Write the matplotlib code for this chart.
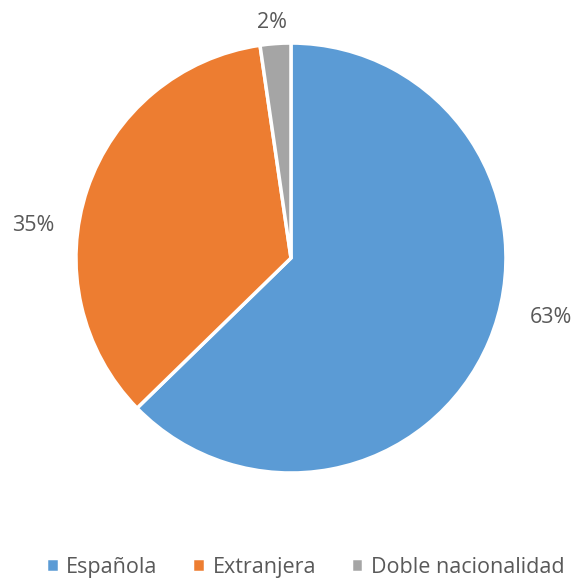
import numpy as np
import matplotlib.pyplot as plt

categories = ['Española', 'Extranjera', 'Doble nacionalidad']
values = [62.7, 35.0, 2.3]
colors = ['#5B9BD5', '#ED7D31', '#A5A5A5']

plt.rcParams['font.family'] = ['Open Sans', 'DejaVu Sans']

fig = plt.figure(figsize=(5.76, 5.81), dpi=100)
ax = fig.add_axes([0.1319, 0.1859, 0.7465, 0.740])

wedges, texts = ax.pie(values, colors=colors, startangle=90, counterclock=False,
                       wedgeprops=dict(edgecolor='white', linewidth=2.5))
ax.set_aspect('auto')
ax.set_xlim(-1, 1)
ax.set_ylim(-1, 1)

# percentage labels outside the slices (distance, angle shift)
dist = [1.24, 1.21, 1.1]
shift = [10, 11.5, 0.5]
for w, v, d, s in zip(wedges, values, dist, shift):
    ang = np.deg2rad((w.theta1 + w.theta2) / 2 + s)
    ax.text(d * np.cos(ang), d * np.sin(ang), f'{round(v)}%',
            ha='center', va='center', fontsize=15.5, color='#595959')

leg = fig.legend(wedges, categories, loc='lower center', ncol=3,
                 bbox_to_anchor=(0.53, -0.028), frameon=False, fontsize=15.5,
                 handlelength=0.6, handleheight=0.6, handletextpad=0.35,
                 columnspacing=1.6, labelcolor='#595959')

fig.savefig('out.png', dpi=100)
